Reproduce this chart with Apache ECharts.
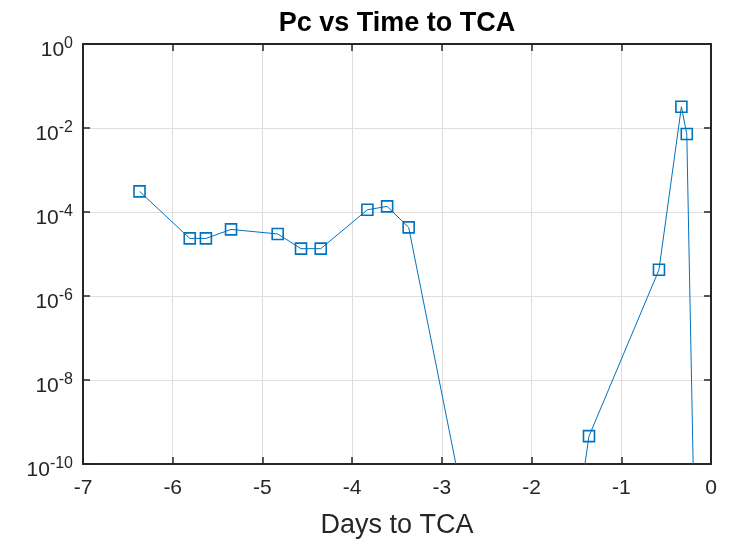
<!DOCTYPE html>
<html>
<head>
<meta charset="utf-8">
<script src="https://cdn.jsdelivr.net/npm/echarts@6/dist/echarts.min.js"></script>
<style>
  html, body { margin: 0; padding: 0; background: #ffffff; }
  #chart { width: 732px; height: 548px; }
</style>
</head>
<body>
<div id="chart"></div>
<script>
// Days before the time of closest approach (TCA) for each conjunction update
const daysToTCA = [-6.37, -5.81, -5.63, -5.35, -4.83, -4.57, -4.35, -3.83, -3.61, -3.37,
                   -2.01, -1.36, -0.58, -0.33, -0.27, -0.06];
// Probability of collision at each update (tiny values fall below the axis floor)
const pcValues = [3.1e-4, 2.35e-5, 2.35e-5, 3.85e-5, 3.0e-5, 1.34e-5, 1.34e-5, 1.13e-4, 1.36e-4, 4.3e-5,
                  1.2e-19, 4.6e-10, 4.2e-6, 3.2e-2, 7.2e-3, 4e-26];

const titleText = 'Pc vs Time to TCA';
const xLabelText = 'Days to TCA';
const xTicks = { min: -7, max: 0, step: 1 };
const yTicks = { min: 1e-10, max: 1, stepDecades: 2 };

const FONT = '"Liberation Sans", Arial, Helvetica, sans-serif';
const AXIS_COLOR = '#262626';
const LINE_COLOR = '#0072BD';

const grid = { left: 83, top: 44, right: 21, bottom: 84 };
const plotCenterX = grid.left + (732 - grid.left - grid.right) / 2;

const chart = echarts.init(document.getElementById('chart'), null, { renderer: 'canvas' });

// Log-axis labels drawn as 10 with a raised exponent
function powerLabel(v) {
  const e = Math.round(Math.log10(v));
  return '{b|10}{s|' + e + '}';
}

const axisLineStyle = () => ({ show: true, onZero: false, lineStyle: { color: AXIS_COLOR, width: 2 } });
const tickStyle = () => ({ show: true, inside: true, length: 7, lineStyle: { color: AXIS_COLOR, width: 1.5 } });
const gridLineStyle = () => ({ show: true, lineStyle: { color: '#dedede', width: 1 } });

const option = {
  animation: false,
  backgroundColor: '#ffffff',
  grid: {
    left: grid.left, top: grid.top, right: grid.right, bottom: grid.bottom,
    containLabel: false, outerBoundsMode: 'none'
  },
  graphic: [
    {
      type: 'text', x: plotCenterX, y: 24,
      style: { text: titleText, font: 'bold 27px ' + FONT, fill: '#000000', align: 'center', verticalAlign: 'middle' }
    },
    {
      type: 'text', x: plotCenterX, y: 526,
      style: { text: xLabelText, font: '27px ' + FONT, fill: AXIS_COLOR, align: 'center', verticalAlign: 'middle' }
    }
  ],
  xAxis: [
    {
      type: 'value', position: 'bottom',
      min: xTicks.min, max: xTicks.max, interval: xTicks.step,
      axisLine: axisLineStyle(), axisTick: tickStyle(), splitLine: gridLineStyle(),
      axisLabel: { color: AXIS_COLOR, fontSize: 21, fontFamily: FONT, margin: 14 }
    },
    {
      type: 'value', position: 'top',
      min: xTicks.min, max: xTicks.max, interval: xTicks.step,
      axisLine: axisLineStyle(), axisTick: tickStyle(), splitLine: { show: false },
      axisLabel: { show: false }
    }
  ],
  yAxis: [
    {
      type: 'log', logBase: 10, position: 'left',
      min: yTicks.min, max: yTicks.max, interval: yTicks.stepDecades,
      axisLine: axisLineStyle(), axisTick: tickStyle(), splitLine: gridLineStyle(),
      minorTick: { show: false }, minorSplitLine: { show: false },
      axisLabel: {
        margin: 10,
        formatter: powerLabel,
        rich: {
          b: { fontSize: 21, fontFamily: FONT, color: AXIS_COLOR, lineHeight: 21, verticalAlign: 'bottom' },
          s: { fontSize: 16, fontFamily: FONT, color: AXIS_COLOR, lineHeight: 34, verticalAlign: 'middle' }
        }
      }
    },
    {
      type: 'log', logBase: 10, position: 'right',
      min: yTicks.min, max: yTicks.max, interval: yTicks.stepDecades,
      axisLine: axisLineStyle(), axisTick: tickStyle(), splitLine: { show: false },
      axisLabel: { show: false }
    }
  ],
  series: [
    {
      type: 'line',
      xAxisIndex: 0, yAxisIndex: 0,
      clip: true,
      data: daysToTCA.map((d, i) => [d, pcValues[i]]),
      symbol: 'rect',
      symbolSize: 11,
      showAllSymbol: true,
      lineStyle: { color: LINE_COLOR, width: 1 },
      itemStyle: { color: 'rgba(0,0,0,0)', borderColor: LINE_COLOR, borderWidth: 1.6 },
      emphasis: { disabled: true }
    }
  ]
};

chart.setOption(option);
</script>
</body>
</html>
